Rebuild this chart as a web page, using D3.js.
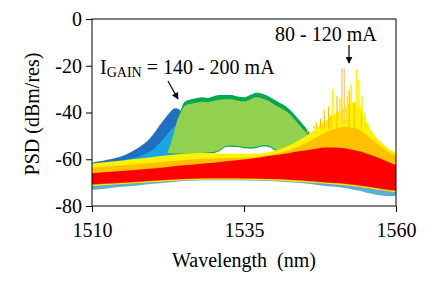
<!DOCTYPE html>
<html>
<head>
<meta charset="utf-8">
<script src="https://cdn.jsdelivr.net/npm/d3@7"></script>
</head>
<body style="margin:0; background:#fff; font-family: 'Liberation Serif', serif;">
<svg id="chart" width="432" height="288" style="display:block" font-family="Liberation Serif"></svg>
<script>
// ---------- data ----------
const xTicks = [1510, 1535, 1560];
const yTicks = [0, -20, -40, -60, -80];

// low-current band (80 - 120 mA): shared wavelength grid
const bandWl     = [1510,1512.5,1515,1517.5,1520,1522.5,1525,1527.5,1530,1532.5,1535,1537.5,1540,1542.5,1544,1545.5,1547,1548.5,1550,1551.5,1553,1554,1555,1556,1557.5,1559,1560];
const fringeLow  = [-73,-72.5,-71.8,-71.2,-70.5,-69.9,-69.3,-69.1,-69,-69,-69.1,-69.2,-69.4,-69.8,-70.1,-70.5,-71,-71.4,-71.8,-72.3,-73,-73.5,-74.2,-74.8,-75.5,-75.8,-75.5];
const redLow     = [-70.8,-70.4,-70,-69.6,-69.2,-68.8,-68.4,-68.2,-68.1,-68.1,-68.2,-68.3,-68.5,-68.8,-69,-69.3,-69.6,-69.9,-70.2,-70.5,-70.9,-71.2,-71.6,-72,-72.6,-73.2,-73.5];
const redHigh    = [-66,-65.5,-65,-64.5,-64,-63.3,-62.6,-62,-61.5,-60.8,-60.1,-59.2,-58.3,-57.3,-56.6,-56,-55.4,-55,-55,-55.3,-56,-56.6,-57.4,-58.3,-59.8,-61.5,-62.5];
const orangeHigh = [-63.6,-63.1,-62.6,-62.1,-61.5,-60.9,-60.3,-59.9,-59.6,-59.5,-59.4,-58.8,-57.8,-56,-54.5,-52.6,-50.5,-48.5,-47,-46.2,-46.5,-47.5,-49.3,-51.5,-54.5,-57.3,-58.5];
const yellowHigh = [-61.8,-61.2,-60.5,-59.8,-59,-58.3,-57.6,-57.3,-57.4,-57.6,-57.7,-57.5,-56.4,-54,-52,-49.5,-46.5,-43.5,-40.5,-38,-35.5,-37,-43,-48,-52.5,-55.8,-57];

// lasing spikes of the low-current spectra
const orangeSpikeWl  = [1545.4,1546.0,1546.5,1546.9,1547.6,1548.2,1548.9,1549.3,1550.3,1552.3,1553.1,1554.3,1555.0];
const orangeSpikeTop = [-49,-47,-45.5,-44.5,-42.5,-39,-37.5,-41,-33,-30.5,-36,-40,-45];
const paleSpikeWl    = [1551.1,1551.5];
const paleSpikeTop   = [-21.2,-21.2];
const yellowSpikeWl  = [1547.9,1549.6,1550.8,1552.0,1552.6,1553.5,1553.9,1554.4,1554.9,1555.5];
const yellowSpikeTop = [-44,-30,-34,-33,-28,-21.5,-26,-33,-40,-46];

// high-current band (I_GAIN = 140 - 200 mA): blue short-wavelength edge
const blueWl       = [1510,1511,1512,1513,1514,1515,1516,1517,1518,1519,1520,1521,1522,1522.8,1523.6,1524.2,1524.7,1525.2];
const darkBlueTop  = [-61.5,-61,-60.5,-60,-59.4,-58.6,-57.4,-56,-54.4,-52.4,-49.6,-46,-42.5,-40,-38.2,-38.4,-40,-44];
const lightBlueTop = [-62.5,-62.2,-61.9,-61.5,-61.1,-60.6,-60,-59.4,-58.6,-57.4,-56,-53.5,-50.5,-48,-46,-45.5,-46.5,-50];
const blueBottom   = [-64,-64,-64,-64,-64,-64,-64,-64,-64,-64,-64,-64,-64,-64,-64,-64,-64,-64];

// high-current band: green plateau
const greenWl        = [1522.3,1523.2,1524,1524.6,1525.2,1526,1527,1528,1529,1530,1531,1532,1533,1534,1535,1536,1537,1538,1539,1540,1541,1542,1543,1544,1545,1546,1547,1548];
const darkGreenTop   = [-58,-51,-43.5,-39,-35.5,-34.5,-34,-33.5,-33.8,-33,-32.5,-32.5,-32.5,-33.2,-33.5,-32.5,-31.5,-32,-33,-34.5,-36,-37.5,-40,-43,-46,-49.5,-52.5,-55];
const lightGreenTop  = [-58,-51,-43.5,-40,-37.3,-36.4,-35.9,-35.4,-35.6,-35,-34.5,-34.3,-34.3,-35,-35.3,-34.4,-33.5,-34,-35,-36.6,-38.1,-39.6,-42,-45,-48,-51.3,-54.2,-56.2];
const greenBottom    = [-58,-58,-58,-58,-58,-58,-58,-57.8,-57.6,-57.4,-56.5,-54.8,-54.6,-54.8,-55.3,-55.5,-55.2,-54.5,-54.6,-56,-57,-56.5,-56,-55.5,-55,-55,-55,-56];

// ---------- chart ----------
const FONT = "Liberation Serif";
const svg = d3.select("#chart");
const x = d3.scaleLinear().domain([1510, 1560]).range([92, 396]);
const y = d3.scaleLinear().domain([-80, 0]).range([206, 19]);

const defs = svg.append("defs");
defs.append("clipPath").attr("id", "plotclip")
  .append("rect").attr("x", 92).attr("y", 19).attr("width", 304).attr("height", 187);

const plot = svg.append("g").attr("clip-path", "url(#plotclip)");

function band(wl, lo, hi) {
  return wl.map((w, i) => ({ wl: w, lo: lo[i], hi: hi[i] }));
}
const area = d3.area()
  .x(d => x(d.wl))
  .y0(d => y(d.lo))
  .y1(d => y(d.hi))
  .curve(d3.curveMonotoneX);

function drawBand(wl, lo, hi, color) {
  return plot.append("path").datum(band(wl, lo, hi)).attr("d", area).attr("fill", color);
}

drawBand(blueWl, blueBottom, darkBlueTop, "#2070C0");
drawBand(blueWl, blueBottom, lightBlueTop, "#18A6E6");
drawBand(greenWl, greenBottom, darkGreenTop, "#00A84F");
drawBand(greenWl, greenBottom.map(v => v + 0.5), lightGreenTop, "#92D050");

drawBand(bandWl, fringeLow, redLow, "#5AAFCF");
drawBand(bandWl, redLow.map(v => v - 0.6), yellowHigh, "#FFF200");

function spikes(wl, top, base, color, w) {
  plot.append("g").selectAll("line").data(wl.map((v, i) => ({ wl: v, top: top[i] })))
    .join("line")
    .attr("x1", d => x(d.wl)).attr("x2", d => x(d.wl))
    .attr("y1", y(base)).attr("y2", d => y(d.top))
    .attr("stroke", color).attr("stroke-width", w);
}
spikes(paleSpikeWl, paleSpikeTop, -45, "#F7CB80", 1.4);
spikes(yellowSpikeWl, yellowSpikeTop, -45, "#FFF200", 1.6);
spikes(orangeSpikeWl, orangeSpikeTop, -47, "#FFC000", 1.2);

drawBand(bandWl, redLow.map(v => v - 0.3), orangeHigh, "#FFC000");
drawBand(bandWl, redLow, redHigh, "#FF0000");

// ---------- axes & frame ----------
svg.append("rect").attr("x", 92).attr("y", 19).attr("width", 304).attr("height", 187)
  .attr("fill", "none").attr("stroke", "#000").attr("stroke-width", 1);

function serif(sel, size) {
  return sel.attr("font-family", FONT).attr("font-size", size)
    .style("font-family", FONT).style("font-size", size + "px");
}

const xAxis = d3.axisBottom(x).tickValues(xTicks).tickSize(6).tickPadding(11).tickFormat(d3.format("d"));
const gx = svg.append("g").attr("transform", "translate(0,206)").call(xAxis);
serif(gx, 20);
gx.select(".domain").remove();
serif(gx.selectAll("text").attr("fill", "#000"), 20);

const yAxis = d3.axisLeft(y).tickValues(yTicks).tickSize(6).tickPadding(4);
const gy = svg.append("g").attr("transform", "translate(92,0)").call(yAxis);
serif(gy, 20);
gy.select(".domain").remove();
serif(gy.selectAll("text").attr("fill", "#000"), 20)
  .text(d => d === 0 ? "0" : "-" + Math.abs(d));

serif(svg.append("text").attr("x", 244).attr("y", 267).attr("text-anchor", "middle"), 20)
  .text("Wavelength\u00A0 (nm)");
serif(svg.append("text").attr("transform", "translate(39,114) rotate(-90)").attr("text-anchor", "middle"), 20)
  .text("PSD (dBm/res)");

defs.append("marker").attr("id", "ah").attr("viewBox", "0 0 10 10")
  .attr("refX", 9).attr("refY", 5).attr("markerWidth", 7).attr("markerHeight", 7)
  .attr("markerUnits", "userSpaceOnUse").attr("orient", "auto")
  .append("path").attr("d", "M0,0 L10,5 L0,10 Z").attr("fill", "#000");

serif(svg.append("text").attr("x", 275).attr("y", 41), 20).text("80 - 120 mA");
svg.append("line").attr("x1", 349).attr("y1", 45).attr("x2", 349).attr("y2", 63)
  .attr("stroke", "#000").attr("stroke-width", 1.2).attr("marker-end", "url(#ah)");

const t = serif(svg.append("text").attr("x", 100).attr("y", 74), 20);
t.append("tspan").text("I");
serif(t.append("tspan"), 14).attr("dy", 3).text("GAIN");
t.append("tspan").attr("dy", -3).text(" = 140 - 200 mA");
svg.append("line").attr("x1", 168).attr("y1", 81).attr("x2", 178).attr("y2", 99)
  .attr("stroke", "#000").attr("stroke-width", 1.2).attr("marker-end", "url(#ah)");
</script>
</body>
</html>
